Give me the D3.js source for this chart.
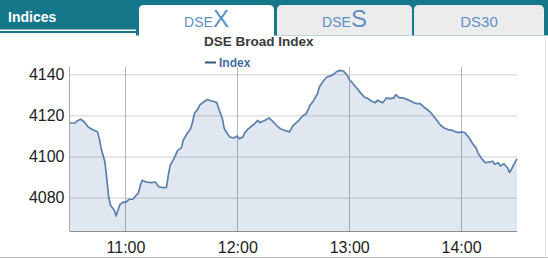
<!DOCTYPE html>
<html>
<head>
<meta charset="utf-8">
<script src="https://cdn.jsdelivr.net/npm/d3@7"></script>
<style>
  body { margin: 0; background: #fff; }
  svg { display: block; }
</style>
</head>
<body>
<div class="parentIndices"></div>
<script>
// data for DSEX intraday chart
let times = [
  "10:30","10:33","10:34","10:36","10:38","10:40","10:43","10:45","10:46","10:47",
  "10:49","10:50","10:51","10:52","10:54","10:55","10:56","10:57","10:59","11:00",
  "11:02","11:04","11:05","11:07","11:08","11:09","11:11","11:14","11:16","11:18",
  "11:20","11:22","11:23","11:24","11:26","11:28","11:30","11:31","11:33","11:35",
  "11:36","11:37","11:39","11:40","11:42","11:44","11:46","11:47","11:49","11:50",
  "11:52","11:53","11:55","11:56","11:58","12:00","12:01","12:03","12:04","12:06",
  "12:09","12:11","12:12","12:15","12:17","12:19","12:21","12:23","12:25","12:28",
  "12:30","12:33","12:35","12:37","12:39","12:41","12:43","12:44","12:46","12:48",
  "12:50","12:52","12:53","12:55","12:57","12:59","13:00","13:02","13:04","13:06",
  "13:08","13:10","13:12","13:14","13:15","13:18","13:20","13:22","13:24","13:25",
  "13:27","13:29","13:31","13:34","13:36","13:38","13:40","13:43","13:45","13:47",
  "13:49","13:51","13:53","13:55","13:57","13:59","14:00","14:02","14:04","14:06",
  "14:08","14:09","14:11","14:13","14:15","14:17","14:18","14:20","14:21","14:23",
  "14:25","14:26","14:27","14:29","14:30"
];
let indexValues = [
  4116.3,4116.3,4117.3,4118.1,4116.8,4114.4,4112.8,4112.0,4108.7,4103.8,
  4097.3,4089.2,4080.3,4076.3,4073.8,4071.1,4073.8,4076.6,4077.9,4077.6,
  4079.2,4079.2,4080.3,4082.3,4086.0,4088.4,4087.6,4087.3,4087.6,4085.2,
  4084.9,4085.0,4090.9,4095.7,4099.0,4103.0,4104.2,4107.9,4111.1,4113.6,
  4116.8,4120.9,4123.3,4125.2,4126.5,4127.7,4127.0,4126.9,4126.2,4123.3,
  4118.4,4113.6,4110.6,4109.5,4109.0,4110.0,4108.7,4109.5,4111.5,4113.6,
  4115.7,4117.6,4116.5,4117.6,4118.8,4117.1,4115.2,4113.6,4112.8,4112.0,
  4115.2,4117.6,4119.7,4120.9,4124.9,4127.3,4130.6,4133.8,4136.6,4138.7,
  4139.2,4140.3,4141.1,4141.9,4141.5,4139.5,4137.6,4135.5,4133.3,4131.1,
  4129.0,4128.2,4126.9,4126.2,4127.3,4126.2,4128.5,4128.2,4128.5,4130.1,
  4128.5,4128.5,4127.8,4126.5,4125.7,4125.7,4124.1,4122.0,4120.0,4117.6,
  4115.2,4113.9,4113.1,4112.8,4112.0,4111.6,4112.0,4111.6,4109.5,4106.6,
  4104.2,4101.9,4099.0,4097.0,4097.3,4097.7,4096.2,4097.0,4095.4,4096.5,
  4094.4,4092.2,4093.8,4097.3,4099.0
];
let yTicks = [4080, 4100, 4120, 4140];
let xTicks = ["11:00", "12:00", "13:00", "14:00"];
let tabLabels = [
  { main: "DSE", big: "X" },
  { main: "DSE", big: "S" },
  { main: "DS30", big: "" }
];

drawIndices(".parentIndices", 548, 259);

function drawIndices(parentDiv, width, height) {
  // Exposed variables
  let attrs = {
    teal: "#15778a",
    tabGray: "#ececec",
    tabText: "#5b8fc6",
    font: "Arial, 'Liberation Sans', sans-serif",
    lineColor: "#5a81ad",
    areaColor: "#4572a7",
    gridColor: "#cfcfcf",
    vGridColor: "#b4b4b4",
    labelColor: "#222",
    plotLeft: 69.5,
    plotRight: 517,
    plotTop: 67,
    plotBottom: 231,
  };

  let parseTime = d3.timeParse("%H:%M");
  let data = times.map((t, i) => ({ t: parseTime(t), v: indexValues[i] }));

  let svg = d3
    .select(parentDiv)
    .append("svg")
    .attr("width", width)
    .attr("height", height)
    .style("font-family", attrs.font);

  // header bar
  svg.append("rect").attr("x", 0).attr("y", 0).attr("width", 137).attr("height", 29.5).attr("fill", attrs.teal);
  svg.append("rect").attr("x", 0).attr("y", 31).attr("width", 137).attr("height", 2).attr("fill", attrs.teal);
  svg.append("rect").attr("x", 136).attr("y", 0).attr("width", width - 136).attr("height", 35.5).attr("fill", attrs.teal);

  svg
    .append("text")
    .attr("x", 8)
    .attr("y", 22)
    .attr("fill", "#fff")
    .attr("font-weight", "bold")
    .attr("font-size", 14)
    .text("Indices");

  // tabs
  let tabX = [139, 277, 414];
  let tabW = [135, 135, 130];
  tabLabels.forEach((tab, i) => {
    let active = i === 0;
    let x = tabX[i], w = tabW[i], y = 5, r = 5, bottom = active ? 37 : 35.5;
    svg
      .append("path")
      .attr(
        "d",
        "M" + x + "," + bottom + "V" + (y + r) + "Q" + x + "," + y + " " + (x + r) + "," + y +
        "H" + (x + w - r) + "Q" + (x + w) + "," + y + " " + (x + w) + "," + (y + r) + "V" + bottom + "Z"
      )
      .attr("fill", active ? "#fff" : attrs.tabGray);

    let txt = svg
      .append("text")
      .attr("x", x + w / 2)
      .attr("y", 27)
      .attr("text-anchor", "middle")
      .attr("fill", attrs.tabText);
    txt.append("tspan").attr("font-size", tab.big ? 14 : 15).text(tab.main);
    if (tab.big) txt.append("tspan").attr("font-size", 24).text(tab.big);
  });

  // panel border
  svg.append("line").attr("x1", 0).attr("x2", width).attr("y1", 257.5).attr("y2", 257.5).attr("stroke", "#bdbdbd");
  svg.append("line").attr("x1", 545.5).attr("x2", 545.5).attr("y1", 35).attr("y2", 257.5).attr("stroke", "#e2e2e2");

  // scales
  let x = d3
    .scaleTime()
    .domain([parseTime("10:30"), parseTime("14:30")])
    .range([attrs.plotLeft, attrs.plotRight]);
  let yDomBottom = 4140 - (attrs.plotBottom - 74.3) / 2.055;
  let yDomTop = yDomBottom + (attrs.plotBottom - attrs.plotTop) / 2.055;
  let y = d3
    .scaleLinear()
    .domain([yDomBottom, yDomTop])
    .range([attrs.plotBottom, attrs.plotTop]);

  // horizontal grid + y labels
  let yAxis = svg
    .append("g")
    .attr("transform", "translate(" + attrs.plotLeft + ",0)")
    .call(
      d3.axisLeft(y)
        .tickValues(yTicks)
        .tickSize(-(attrs.plotRight - attrs.plotLeft))
        .tickPadding(5)
        .tickFormat(d3.format("d"))
    );
  yAxis.select(".domain").remove();
  yAxis.selectAll("line").attr("stroke", attrs.gridColor);
  yAxis
    .selectAll("text")
    .attr("fill", attrs.labelColor)
    .attr("font-size", 16)
    .attr("font-family", attrs.font);

  // vertical grid
  svg
    .append("g")
    .selectAll("line")
    .data(xTicks.map(parseTime))
    .enter()
    .append("line")
    .attr("x1", (d) => Math.round(x(d)) + 0.5)
    .attr("x2", (d) => Math.round(x(d)) + 0.5)
    .attr("y1", attrs.plotTop)
    .attr("y2", attrs.plotBottom)
    .attr("stroke", attrs.vGridColor);

  // area + line
  let area = d3
    .area()
    .x((d) => x(d.t))
    .y0(attrs.plotBottom)
    .y1((d) => y(d.v));
  let line = d3
    .line()
    .x((d) => x(d.t))
    .y((d) => y(d.v));

  svg
    .append("path")
    .datum(data)
    .attr("d", area)
    .attr("fill", attrs.areaColor)
    .attr("fill-opacity", 0.17);
  svg
    .append("path")
    .datum(data)
    .attr("d", line)
    .attr("fill", "none")
    .attr("stroke", attrs.lineColor)
    .attr("stroke-width", 1.7)
    .attr("stroke-linejoin", "round");

  // axis lines
  svg
    .append("line")
    .attr("x1", attrs.plotLeft)
    .attr("x2", attrs.plotLeft)
    .attr("y1", attrs.plotTop)
    .attr("y2", attrs.plotBottom)
    .attr("stroke", "#a8a8a8");

  let xAxis = svg
    .append("g")
    .attr("transform", "translate(0," + (attrs.plotBottom + 0.5) + ")")
    .call(
      d3.axisBottom(x)
        .tickValues(xTicks.map(parseTime))
        .tickSize(0)
        .tickPadding(10)
        .tickFormat(d3.timeFormat("%H:%M"))
    );
  xAxis.select(".domain").attr("stroke", "#8c8c8c").attr("d", "M" + attrs.plotLeft + ",0H" + attrs.plotRight);
  xAxis
    .selectAll("text")
    .attr("fill", attrs.labelColor)
    .attr("font-size", 16)
    .attr("font-family", attrs.font);

  // title + legend
  svg
    .append("text")
    .attr("x", 204)
    .attr("y", 46)
    .attr("fill", "#3a3a3a")
    .attr("font-weight", "bold")
    .attr("font-size", 13.5)
    .text("DSE Broad Index");

  svg
    .append("line")
    .attr("x1", 205)
    .attr("x2", 216)
    .attr("y1", 62.5)
    .attr("y2", 62.5)
    .attr("stroke", "#34567a")
    .attr("stroke-width", 2);
  svg
    .append("text")
    .attr("x", 219)
    .attr("y", 67)
    .attr("fill", "#3f6d9e")
    .attr("font-weight", "bold")
    .attr("font-size", 12)
    .text("Index");
}
</script>
</body>
</html>
